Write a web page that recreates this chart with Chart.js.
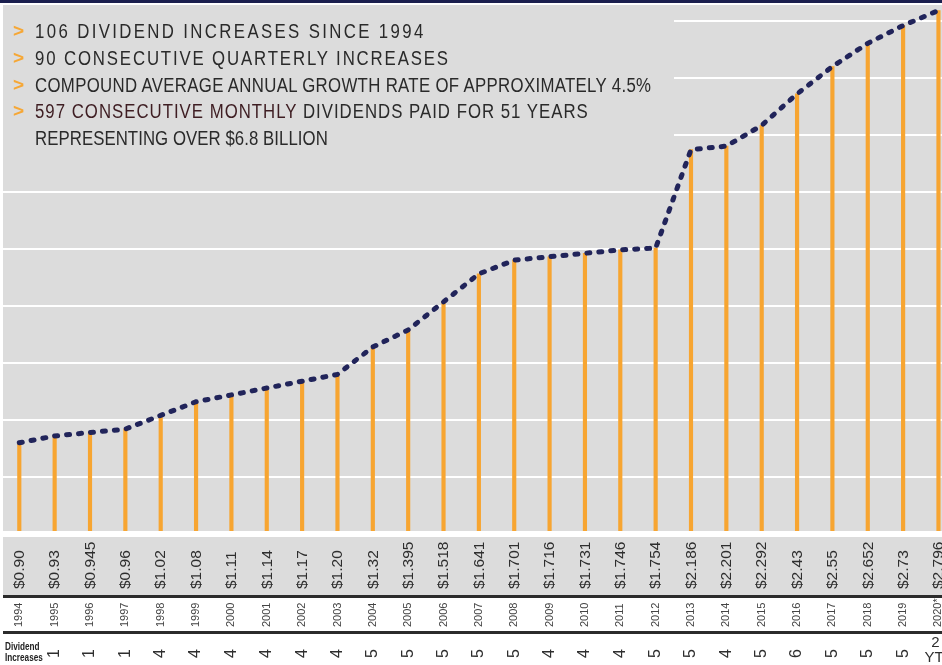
<!DOCTYPE html>
<html>
<head>
<meta charset="utf-8">
<script src="https://cdn.jsdelivr.net/npm/chart.js@4.4.1/dist/chart.umd.min.js"></script>
<style>
html,body{margin:0;padding:0;background:#fff;}
#wrap{position:relative;width:942px;height:665px;overflow:hidden;}
#c{position:absolute;left:0;top:0;display:block;}
.hl{position:absolute;left:0;font-family:"Liberation Sans",Arial,sans-serif;font-size:20px;line-height:20px;white-space:nowrap;color:#2a2a2a;}
.txt{position:absolute;left:35px;top:0;display:inline-block;transform-origin:0 0;}
.bul{position:absolute;left:13px;top:0;color:#F6A735;font-weight:bold;font-size:19px;}
</style>
</head>
<body>
<div id="wrap"><canvas id="c" width="942" height="665"></canvas><div id="hdr"></div></div>
<script>
// ---------- DATA ----------
const years = ['1994','1995','1996','1997','1998','1999','2000','2001','2002','2003','2004','2005','2006','2007','2008','2009','2010','2011','2012','2013','2014','2015','2016','2017','2018','2019','2020*'];
const dividends = [0.90,0.93,0.945,0.96,1.02,1.08,1.11,1.14,1.17,1.20,1.32,1.395,1.518,1.641,1.701,1.716,1.731,1.746,1.754,2.186,2.201,2.292,2.43,2.55,2.652,2.73,2.796];
const valueLabels = ['$0.90','$0.93','$0.945','$0.96','$1.02','$1.08','$1.11','$1.14','$1.17','$1.20','$1.32','$1.395','$1.518','$1.641','$1.701','$1.716','$1.731','$1.746','$1.754','$2.186','$2.201','$2.292','$2.43','$2.55','$2.652','$2.73','$2.796'];
const increases = ['','1','1','1','4','4','4','4','4','4','5','5','5','5','5','4','4','4','5','5','4','5','6','5','5','5','2'];
const ytdNote = 'YTD';
const rowTitle = ['Dividend','Increases'];
const headerLines = [
  '106 DIVIDEND INCREASES SINCE 1994',
  '90 CONSECUTIVE QUARTERLY INCREASES',
  'COMPOUND AVERAGE ANNUAL GROWTH RATE OF APPROXIMATELY 4.5%',
  '597 CONSECUTIVE MONTHLY DIVIDENDS PAID FOR 51 YEARS',
  'REPRESENTING OVER $6.8 BILLION'
];
const headerBullets = [true,true,true,true,false];
const headerHighlight = '597 CONSECUTIVE MONTHLY';

// ---------- STYLE / LAYOUT ----------
const GRAY = '#dcdcdc', NAVY = '#21245a', ORANGE = '#f7a531', DARK = '#2b2b2b';
const headerBaselines = [38,65,92,118,145];
const headerWidths = [388,413,616,553,293];
const SX = 0.84;

// header (HTML text)
const hdr = document.getElementById('hdr');
headerLines.forEach((t, i) => {
  const line = document.createElement('div');
  line.className = 'hl';
  line.style.top = (headerBaselines[i] - 16.93) + 'px';
  line.style.width = '942px';
  line.style.height = '24px';
  if (headerBullets[i]) {
    const b = document.createElement('span');
    b.className = 'bul';
    b.textContent = '>';
    line.appendChild(b);
  }
  const tx = document.createElement('span');
  tx.className = 'txt';
  if (headerHighlight && t.startsWith(headerHighlight)) {
    const h = document.createElement('span');
    h.style.color = '#3e1d22';
    h.textContent = headerHighlight;
    tx.appendChild(h);
    tx.appendChild(document.createTextNode(t.slice(headerHighlight.length)));
  } else {
    tx.textContent = t;
  }
  line.appendChild(tx);
  hdr.appendChild(line);
  const w = tx.offsetWidth;
  const s = (headerWidths[i] / SX - w) / (t.length - 1);
  tx.style.letterSpacing = s + 'px';
  tx.style.transform = 'scaleX(' + SX + ')';
});

const pts = dividends.map((v, i) => ({x: i, y: v}));

const decor = {
  id: 'decor',
  beforeDraw(chart) {
    const {ctx, chartArea: a} = chart;
    ctx.save();
    ctx.fillStyle = '#fff';
    ctx.fillRect(0, 0, chart.width, chart.height);
    ctx.fillStyle = GRAY;
    ctx.fillRect(a.left, a.top, a.right - a.left, a.bottom - a.top);
    ctx.fillStyle = '#1b1f4e';
    ctx.fillRect(0, 0, chart.width, 3);
    ctx.restore();
  },
  beforeDatasetsDraw(chart) {
    const {ctx, chartArea: a} = chart;
    ctx.save();
    ctx.fillStyle = GRAY;
    ctx.fillRect(a.left, a.top, 674 - a.left, 160);
    ctx.restore();
  },
  afterDraw(chart) {
    const {ctx, chartArea: a} = chart;
    const xs = chart.scales.x;
    const W = chart.width;
    ctx.save();
    ctx.fillStyle = '#fff';
    ctx.fillRect(0, a.bottom - 3, W, 6);
    ctx.fillStyle = GRAY;
    ctx.fillRect(a.left, a.bottom + 3, W - a.left, 58);
    ctx.fillStyle = DARK;
    ctx.fillRect(a.left, a.bottom + 61, W - a.left, 3);
    ctx.fillRect(a.left, a.bottom + 97, W - a.left, 3);

    years.forEach((yr, i) => {
      const px = xs.getPixelForValue(i);
      // value labels
      ctx.save();
      ctx.translate(px + 0.5, a.bottom + 55);
      ctx.rotate(-Math.PI / 2);
      ctx.textAlign = 'left';
      ctx.textBaseline = 'middle';
      ctx.fillStyle = '#2e2e2e';
      ctx.font = '15.5px "Liberation Sans", Arial, sans-serif';
      ctx.fillText(valueLabels[i], 0, 0);
      ctx.restore();
      // year labels
      ctx.save();
      ctx.translate(px, a.bottom + 93);
      ctx.rotate(-Math.PI / 2);
      ctx.textAlign = 'left';
      ctx.textBaseline = 'middle';
      ctx.fillStyle = '#444';
      ctx.font = '11px "Liberation Sans", Arial, sans-serif';
      ctx.fillText(yr, 0, 0);
      ctx.restore();
      // dividend increases
      const inc = increases[i];
      if (!inc) return;
      if (i === years.length - 1) {
        ctx.save();
        ctx.fillStyle = '#2e2e2e';
        ctx.textAlign = 'center';
        ctx.textBaseline = 'alphabetic';
        ctx.font = '15px "Liberation Sans", Arial, sans-serif';
        ctx.fillText(inc, px - 3, a.bottom + 113);
        ctx.fillText(ytdNote, px + 1, a.bottom + 128);
        ctx.restore();
      } else {
        ctx.save();
        ctx.translate(px, a.bottom + 124);
        ctx.rotate(-Math.PI / 2);
        ctx.textAlign = 'left';
        ctx.textBaseline = 'middle';
        ctx.fillStyle = '#2e2e2e';
        ctx.font = '16px "Liberation Sans", Arial, sans-serif';
        ctx.fillText(inc, 0, 0);
        ctx.restore();
      }
    });
    // row title
    ctx.save();
    ctx.fillStyle = '#222';
    ctx.font = 'bold 10.5px "Liberation Sans", Arial, sans-serif';
    ctx.textBaseline = 'alphabetic';
    ctx.translate(5, a.bottom + 116);
    ctx.scale(0.78, 1);
    ctx.fillText(rowTitle[0], 0, 0);
    ctx.fillText(rowTitle[1], 0, 11);
    ctx.restore();
    ctx.restore();
  }
};

new Chart(document.getElementById('c'), {
  type: 'bar',
  data: {
    datasets: [
      {
        type: 'line',
        data: pts,
        borderColor: NAVY,
        borderWidth: 5,
        borderDash: [3, 9],
        borderCapStyle: 'round',
        pointRadius: 0,
        tension: 0,
        fill: false,
        order: 0
      },
      {
        type: 'bar',
        data: pts,
        backgroundColor: ORANGE,
        barThickness: 3.5,
        order: 1
      }
    ]
  },
  options: {
    responsive: false,
    animation: false,
    devicePixelRatio: 1,
    layout: {padding: {left: 3, top: 5, right: 0, bottom: 131}},
    plugins: {legend: {display: false}, tooltip: {enabled: false}},
    scales: {
      x: {
        type: 'linear',
        min: -0.461,
        max: 26.1,
        offset: false,
        display: false
      },
      y: {
        min: 0.5,
        max: 2.82,
        display: true,
        border: {display: false},
        ticks: {display: false, stepSize: 0.25},
        grid: {
          drawTicks: false,
          lineWidth: 2,
          color: (c) => {
            const v = c.tick ? c.tick.value : 0;
            const k = Math.round(v * 4);
            return (Math.abs(v * 4 - k) < 1e-6 && v > 0.51) ? '#ffffff' : 'rgba(0,0,0,0)';
          }
        }
      }
    }
  },
  plugins: [decor]
});
</script>
</body>
</html>
